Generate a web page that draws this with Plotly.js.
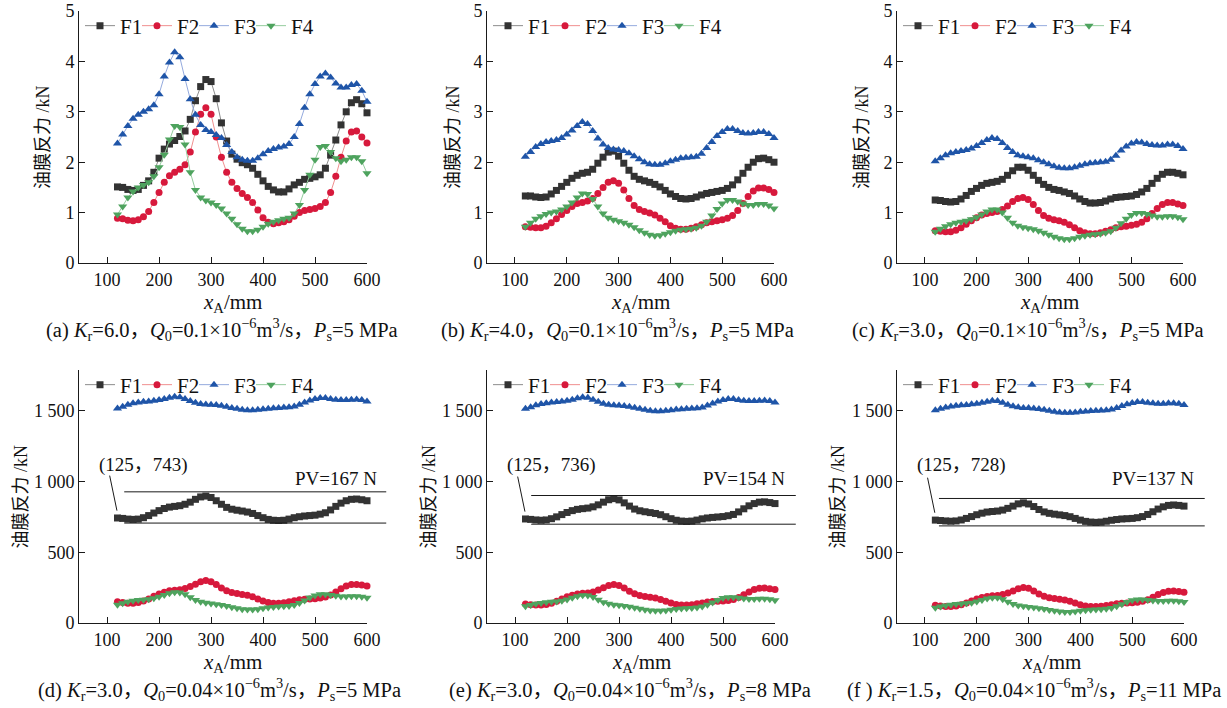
<!DOCTYPE html>
<html>
<head>
<meta charset="utf-8">
<script src="https://cdn.plot.ly/plotly-3.0.1.min.js"></script>
<style>html,body{margin:0;padding:0;background:#fff;}#chart{width:1227px;height:708px;}</style>
</head>
<body>
<div id="chart"></div>
<script>
// ---------- data ----------
const xA = [120,130,140,150,160,170,180,190,200,210,220,230,240,250,260,270,280,290,300,310,320,330,340,350,360,370,380,390,400,410,420,430,440,450,460,470,480,490,500,510,520,530,540,550,560,570,580,590,600];
const seriesNames = ['F1','F2','F3','F4'];

// (a)
const a_F1 = [1.51,1.50,1.46,1.44,1.46,1.54,1.63,1.80,2.08,2.26, 2.36,2.43,2.51,2.62,2.85,3.22,3.50,3.64,3.60,3.26, 2.78,2.42,2.16,2.06,1.99,1.95,1.88,1.76,1.63,1.52, 1.45,1.41,1.41,1.47,1.55,1.60,1.66,1.68,1.71,1.75, 1.88,2.14,2.44,2.74,3.00,3.18,3.24,3.16,2.98];
const a_F2 = [0.89,0.88,0.85,0.84,0.86,0.92,1.02,1.20,1.40,1.60, 1.73,1.80,1.86,1.95,2.20,2.60,2.95,3.08,2.95,2.50, 2.10,1.80,1.60,1.48,1.38,1.30,1.20,1.05,0.90,0.81, 0.78,0.80,0.82,0.86,0.93,1.00,1.04,1.06,1.08,1.12, 1.20,1.40,1.72,2.10,2.42,2.60,2.62,2.50,2.38];
const a_F3 = [2.37,2.55,2.72,2.86,2.94,3.00,3.05,3.13,3.35,3.70, 3.98,4.18,4.08,3.65,3.25,2.94,2.74,2.64,2.60,2.54, 2.48,2.34,2.20,2.10,2.05,2.03,2.03,2.08,2.16,2.22, 2.26,2.29,2.31,2.36,2.50,2.76,3.08,3.35,3.55,3.70, 3.76,3.68,3.56,3.48,3.48,3.53,3.55,3.42,3.20];
const a_F4 = [0.96,1.12,1.30,1.42,1.50,1.55,1.60,1.72,1.90,2.15, 2.45,2.72,2.70,2.35,1.80,1.45,1.30,1.24,1.20,1.15, 1.08,0.98,0.88,0.77,0.68,0.63,0.63,0.66,0.72,0.78, 0.82,0.85,0.88,0.90,0.98,1.15,1.45,1.75,2.05,2.30, 2.32,2.20,2.08,2.02,2.05,2.10,2.10,2.02,1.78];
// (b)
const b_F1 = [1.33,1.33,1.31,1.30,1.31,1.37,1.44,1.52,1.60,1.68, 1.74,1.78,1.80,1.86,1.98,2.10,2.20,2.22,2.12,1.98, 1.84,1.72,1.66,1.63,1.60,1.56,1.51,1.44,1.37,1.32, 1.28,1.27,1.28,1.31,1.35,1.38,1.40,1.42,1.44,1.48, 1.55,1.65,1.78,1.90,2.00,2.07,2.08,2.05,2.00];
const b_F2 = [0.72,0.71,0.70,0.70,0.73,0.80,0.88,0.96,1.04,1.12, 1.18,1.20,1.23,1.28,1.38,1.50,1.60,1.63,1.58,1.45, 1.28,1.14,1.06,1.02,0.99,0.95,0.89,0.82,0.74,0.69, 0.67,0.67,0.69,0.72,0.76,0.80,0.82,0.84,0.86,0.89, 0.94,1.04,1.18,1.32,1.43,1.49,1.49,1.46,1.40];
const b_F3 = [2.11,2.20,2.30,2.36,2.40,2.42,2.44,2.48,2.55,2.63, 2.72,2.80,2.76,2.62,2.47,2.35,2.28,2.25,2.24,2.22, 2.18,2.12,2.06,2.00,1.96,1.95,1.95,1.98,2.02,2.05, 2.08,2.09,2.10,2.11,2.17,2.28,2.40,2.52,2.60,2.66, 2.66,2.62,2.58,2.57,2.58,2.60,2.60,2.56,2.48];
const b_F4 = [0.72,0.80,0.88,0.93,0.97,1.00,1.02,1.06,1.12,1.20, 1.30,1.38,1.37,1.27,1.12,0.98,0.90,0.86,0.83,0.80, 0.76,0.71,0.65,0.60,0.56,0.54,0.55,0.58,0.61,0.64, 0.66,0.67,0.68,0.70,0.74,0.82,0.94,1.07,1.18,1.25, 1.25,1.22,1.18,1.15,1.15,1.17,1.17,1.14,1.08];
// (c)
const c_F1 = [1.25,1.24,1.22,1.21,1.22,1.27,1.34,1.42,1.48,1.54, 1.58,1.60,1.62,1.66,1.74,1.83,1.90,1.90,1.84,1.74, 1.64,1.56,1.50,1.46,1.44,1.41,1.38,1.33,1.27,1.22, 1.19,1.19,1.20,1.23,1.27,1.30,1.31,1.32,1.33,1.36, 1.41,1.48,1.58,1.68,1.76,1.80,1.80,1.78,1.75];
const c_F2 = [0.64,0.63,0.62,0.62,0.65,0.70,0.77,0.84,0.90,0.95, 0.98,1.00,1.02,1.06,1.13,1.22,1.28,1.30,1.26,1.16, 1.04,0.94,0.89,0.86,0.84,0.81,0.76,0.70,0.64,0.60, 0.58,0.58,0.60,0.63,0.66,0.70,0.72,0.73,0.75,0.77, 0.81,0.88,0.98,1.08,1.16,1.20,1.20,1.17,1.14];
const c_F3 = [2.02,2.08,2.14,2.18,2.20,2.22,2.24,2.27,2.32,2.38, 2.44,2.48,2.46,2.38,2.28,2.20,2.14,2.12,2.10,2.08, 2.04,2.00,1.96,1.92,1.89,1.88,1.88,1.90,1.93,1.96, 1.98,1.99,2.00,2.01,2.05,2.13,2.23,2.31,2.37,2.40, 2.39,2.36,2.34,2.33,2.33,2.35,2.35,2.32,2.26];
const c_F4 = [0.62,0.68,0.73,0.77,0.80,0.82,0.84,0.87,0.91,0.96, 1.02,1.06,1.06,1.00,0.90,0.80,0.74,0.71,0.69,0.67, 0.64,0.60,0.56,0.52,0.49,0.47,0.47,0.49,0.52,0.54, 0.56,0.57,0.58,0.60,0.63,0.70,0.79,0.88,0.95,0.99, 0.99,0.97,0.94,0.92,0.92,0.93,0.93,0.91,0.87];
// (d)
const d_F1 = [743,740,735,733,735,745,760,778,795,810, 820,825,830,840,855,875,892,898,888,865, 840,818,805,798,792,785,775,760,745,733, 727,725,727,735,745,752,757,760,763,770, 780,800,825,848,865,875,877,872,865];
const d_F2 = [150,145,140,140,145,155,170,190,205,218, 228,232,236,244,258,275,292,300,292,272, 248,228,215,208,202,196,185,170,155,145, 140,140,143,150,157,165,168,170,172,176, 184,198,220,243,262,272,273,268,262];
const d_F3 = [1518,1530,1545,1555,1560,1565,1568,1572,1578,1585, 1594,1600,1598,1585,1570,1558,1550,1546,1545,1542, 1537,1530,1522,1515,1508,1505,1505,1508,1512,1516, 1520,1522,1524,1526,1532,1545,1560,1575,1585,1592, 1592,1585,1580,1578,1578,1580,1582,1578,1568];
const d_F4 = [130,140,150,157,162,165,168,175,185,198, 210,218,216,203,182,162,150,143,138,133, 127,120,112,104,98,95,95,98,104,110, 114,116,118,121,128,142,160,180,195,203, 203,198,192,188,188,190,190,186,178];
// (e)
const e_F1 = [736,733,729,727,729,738,751,767,782,795, 804,809,813,822,836,855,872,880,871,850, 827,806,794,787,781,775,766,752,738,727, 721,719,721,728,737,743,747,750,753,759, 768,786,808,829,845,855,857,852,845];
const e_F2 = [135,130,127,127,131,140,153,170,185,197, 206,210,213,220,233,249,265,272,265,247, 225,207,195,188,183,177,167,154,141,131, 127,127,130,136,142,149,152,154,156,160, 167,180,200,220,237,246,247,243,237];
const e_F3 = [1515,1527,1540,1550,1555,1560,1563,1567,1573,1580, 1590,1597,1594,1580,1565,1552,1544,1540,1538,1535, 1530,1523,1515,1508,1502,1499,1499,1502,1506,1510, 1513,1515,1517,1519,1525,1538,1553,1567,1577,1584, 1584,1578,1573,1571,1571,1573,1574,1570,1560];
const e_F4 = [118,127,136,142,147,150,152,158,167,179, 190,197,195,184,165,147,136,130,125,120, 115,108,101,94,89,86,86,89,94,99, 103,105,107,110,116,129,145,163,176,183, 183,179,174,170,170,172,172,168,161];
// (f)
const f_F1 = [728,725,722,720,722,729,740,753,766,777, 785,789,792,799,811,827,843,850,842,824, 803,786,776,770,765,760,752,740,728,719, 714,712,714,720,727,732,736,738,740,745, 753,768,787,806,822,832,835,832,827];
const f_F2 = [125,120,117,117,121,129,141,156,169,180, 188,192,195,201,212,227,243,252,245,227, 206,190,179,173,168,162,153,141,129,120, 116,116,119,124,130,136,139,141,143,146, 153,165,183,201,216,225,226,222,217];
const f_F3 = [1505,1515,1525,1532,1537,1540,1543,1547,1552,1558, 1566,1572,1570,1558,1545,1533,1526,1522,1521,1518, 1514,1508,1501,1495,1490,1487,1487,1490,1494,1497, 1500,1502,1504,1506,1511,1522,1535,1548,1557,1563, 1563,1558,1554,1552,1552,1554,1555,1551,1542];
const f_F4 = [108,116,124,130,134,137,139,144,152,163, 173,179,178,168,151,134,124,118,114,110, 105,99,92,86,81,78,78,81,86,90, 94,96,98,100,106,118,133,149,161,167, 167,163,159,156,156,157,157,154,148];

const xTickVals = [100,200,300,400,500,600];
const yTickValsTop = [0,1,2,3,4,5];
const yTickTextTop = ['0','1','2','3','4','5'];
const yTickValsBot = [0,500,1000,1500];
const yTickTextBot = ['0','500','1 000','1 500'];

const captions = [
  '(a) <i>K</i><sub>r</sub>=6.0，<i>Q</i><sub>0</sub>=0.1×10<sup>−6</sup>m<sup>3</sup>/s，<i>P</i><sub>s</sub>=5 MPa',
  '(b) <i>K</i><sub>r</sub>=4.0，<i>Q</i><sub>0</sub>=0.1×10<sup>−6</sup>m<sup>3</sup>/s，<i>P</i><sub>s</sub>=5 MPa',
  '(c) <i>K</i><sub>r</sub>=3.0，<i>Q</i><sub>0</sub>=0.1×10<sup>−6</sup>m<sup>3</sup>/s，<i>P</i><sub>s</sub>=5 MPa',
  '(d) <i>K</i><sub>r</sub>=3.0，<i>Q</i><sub>0</sub>=0.04×10<sup>−6</sup>m<sup>3</sup>/s，<i>P</i><sub>s</sub>=5 MPa',
  '(e) <i>K</i><sub>r</sub>=3.0，<i>Q</i><sub>0</sub>=0.04×10<sup>−6</sup>m<sup>3</sup>/s，<i>P</i><sub>s</sub>=8 MPa',
  '(f ) <i>K</i><sub>r</sub>=1.5，<i>Q</i><sub>0</sub>=0.04×10<sup>−6</sup>m<sup>3</sup>/s，<i>P</i><sub>s</sub>=11 MPa'
];
// annotations for bottom row: start point label, PV label, PV band (upper, lower), band x extent
const startLabels = ['(125，743)','(125，736)','(125，728)'];
const pvLabels = ['PV=167 N','PV=154 N','PV=137 N'];
const pvUpper = [928, 902, 881];
const pvLower = [707, 699, 687];
const pvX0 = [133, 131, 127];
const pvX1 = [637, 640, 640];

// ---------- layout geometry (pixels) ----------
const W = 1227, H = 708;
const geom = [
  {l:79, r:367, t:11, b:263},
  {l:487, r:774, t:11, b:263},
  {l:897, r:1183, t:11, b:263},
  {l:79, r:367, t:370, b:623},
  {l:487, r:775, t:370, b:623},
  {l:897, r:1184, t:370, b:623}
];
const xRange = [46, 600];
const yRangeTop = [0, 5];
const yRangeBot = [0, 1790];
const yTitleX = [43, 453, 862, 20, 428, 837];
const xTitleX = [233, 640, 1049, 233, 641, 1051];
const captionX = [222, 617, 1028, 219, 630, 1034];

const markerColors = ['#333333', '#d7193c', '#1f55a8', '#4ea35e'];
const lineColors = ['#8c8c8c', '#f09090', '#94aade', '#94cc9e'];
const symbols = ['square', 'circle', 'triangle-up', 'triangle-down'];
const sizes = [7, 7, 8, 8];

const SERIF = 'Liberation Serif, Times New Roman, serif';
const CJK = 'Liberation Serif, Noto Sans CJK SC, serif';

const px = p => p / W;
const py = p => 1 - p / H;

const panelData = [
  [a_F1, a_F2, a_F3, a_F4],
  [b_F1, b_F2, b_F3, b_F4],
  [c_F1, c_F2, c_F3, c_F4],
  [d_F1, d_F2, d_F3, d_F4],
  [e_F1, e_F2, e_F3, e_F4],
  [f_F1, f_F2, f_F3, f_F4]
];

const traces = [];
const layout = {
  width: W, height: H,
  margin: {l:0, r:0, t:0, b:0},
  paper_bgcolor: '#fff', plot_bgcolor: 'rgba(0,0,0,0)',
  showlegend: true,
  annotations: [], shapes: []
};

panelData.forEach((series, i) => {
  const n = i + 1;
  const xName = 'x' + (n === 1 ? '' : n);
  const yName = 'y' + (n === 1 ? '' : n);
  const legName = 'legend' + (n === 1 ? '' : n);
  const g = geom[i];
  const top = i < 3;
  series.forEach((vals, k) => {
    const tr = {
      type: 'scatter', mode: 'lines+markers',
      x: xA, y: vals, name: seriesNames[k],
      xaxis: xName, yaxis: yName, legend: legName,
      line: {color: lineColors[k], width: 1},
      marker: {symbol: symbols[k], size: sizes[k], color: markerColors[k], line: {width: 0}},
      cliponaxis: false
    };
    if (k === series.length - 1) tr.legendwidth = 30;
    traces.push(tr);
  });
  const axCommon = {
    showgrid: false, zeroline: false, showline: true,
    linecolor: '#1a1a1a', linewidth: 1,
    ticks: 'inside', ticklen: 6, tickwidth: 1, tickcolor: '#1a1a1a',
    tickfont: {family: SERIF, size: 18, color: '#111'},
    fixedrange: true
  };
  layout['xaxis' + (n === 1 ? '' : n)] = Object.assign({}, axCommon, {
    domain: [px(g.l), px(g.r)], range: xRange,
    tickmode: 'array', tickvals: xTickVals, ticktext: xTickVals.map(String),
    anchor: yName
  });
  layout['yaxis' + (n === 1 ? '' : n)] = Object.assign({}, axCommon, {
    domain: [py(g.b), py(g.t)], range: top ? yRangeTop : yRangeBot,
    tickmode: 'array', tickvals: top ? yTickValsTop : yTickValsBot,
    ticktext: top ? yTickTextTop : yTickTextBot,
    anchor: xName
  });
  layout[legName] = {
    orientation: 'h', x: px(g.l + 1), y: py(g.t + 15),
    xanchor: 'left', yanchor: 'middle',
    font: {family: SERIF, size: 21, color: '#111'},
    bgcolor: 'rgba(0,0,0,0)', borderwidth: 0,
    entrywidth: 12, entrywidthmode: 'pixels', itemwidth: 30
  };
  // y title
  layout.annotations.push({
    xref: 'paper', yref: 'paper', x: px(yTitleX[i]), y: py((g.t + g.b) / 2),
    text: '油膜反力 /kN', textangle: -90, showarrow: false,
    xanchor: 'center', yanchor: 'middle',
    font: {family: CJK, size: 18, color: '#111'}
  });
  // x title
  layout.annotations.push({
    xref: 'paper', yref: 'paper', x: px(xTitleX[i]), y: py(g.b + 40),
    text: '<i>x</i><sub>A</sub>/mm', showarrow: false,
    xanchor: 'center', yanchor: 'middle',
    font: {family: SERIF, size: 21, color: '#111'}
  });
  // caption
  layout.annotations.push({
    xref: 'paper', yref: 'paper', x: px(captionX[i]), y: py(g.b + 66),
    text: captions[i], showarrow: false,
    xanchor: 'center', yanchor: 'middle',
    font: {family: CJK, size: 20.5, color: '#111'}
  });
  if (!top) {
    const j = i - 3;
    const yr = yRangeBot;
    const toPX = v => px(g.l + (v - xRange[0]) / (xRange[1] - xRange[0]) * (g.r - g.l));
    const toPY = v => py(g.b - (v - yr[0]) / (yr[1] - yr[0]) * (g.b - g.t));
    [pvUpper[j], pvLower[j]].forEach(v => {
      layout.shapes.push({
        type: 'line', xref: 'paper', yref: 'paper',
        x0: toPX(pvX0[j]), x1: toPX(pvX1[j]), y0: toPY(v), y1: toPY(v),
        line: {color: '#1a1a1a', width: 1}
      });
    });
    // leader line from first F1 point to its label
    layout.shapes.push({
      type: 'line', xref: xName, yref: yName,
      x0: xA[0] - 1, y0: panelData[i][0][0] + 52, x1: xA[0] - 15, y1: panelData[i][0][0] + 300,
      line: {color: '#1a1a1a', width: 1}
    });
    layout.annotations.push({
      xref: xName, yref: yName, x: 170, y: 1120,
      text: startLabels[j], showarrow: false, xanchor: 'center', yanchor: 'middle',
      font: {family: CJK, size: 19, color: '#111'}
    });
    layout.annotations.push({
      xref: xName, yref: yName, x: 540, y: 1020,
      text: pvLabels[j], showarrow: false, xanchor: 'center', yanchor: 'middle',
      font: {family: SERIF, size: 19, color: '#111'}
    });
  }
});

Plotly.newPlot('chart', traces, layout, {staticPlot: true, displayModeBar: false});
</script>
</body>
</html>
